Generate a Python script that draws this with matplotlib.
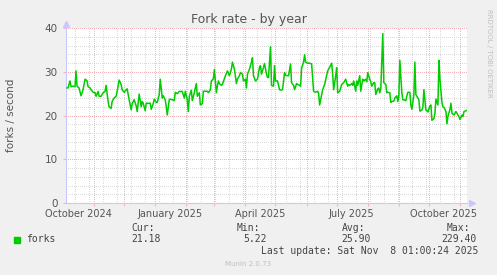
import numpy as np
import matplotlib
matplotlib.use("Agg")
import matplotlib.pyplot as plt
from matplotlib.patches import Rectangle

# day offsets from the graph start (Munin "by year" = last 400 days)
start = np.datetime64("2024-10-04T01:00")
end = np.datetime64("2025-11-08T01:00")

days = [1, 2, 4, 5, 7, 9, 10, 11, 13, 15, 17, 19, 21, 22, 24, 25, 27, 29, 30, 32,
        33, 35, 37, 39, 40, 42, 43, 45, 46, 48, 50, 51, 53, 55, 56, 58, 60, 61, 63, 65,
        66, 68, 70, 71, 73, 75, 76, 77, 79, 80, 82, 84, 85, 87, 88, 90, 91, 93, 94, 96,
        97, 99, 100, 101,
        103, 104, 106, 108, 109, 111, 113, 115, 116, 118, 119, 121, 122, 123, 125, 126,
        128, 130, 131, 133, 134, 136, 137, 139, 141, 142, 144, 145, 147, 148, 150, 151,
        152, 153, 155, 156, 158, 159, 161, 162, 163, 165, 166, 168, 170, 171, 173, 174,
        176, 177, 179, 180, 181, 183, 185, 186, 187, 189, 191, 193, 194, 195, 197, 198,
        200, 201,
        202, 204, 205, 207, 208, 209, 211, 213, 215, 216, 218, 219, 221, 222, 224, 225,
        227, 228, 230, 231, 233, 234, 235, 237, 238, 239, 241, 243, 245, 246, 247, 249,
        251, 252, 253, 255, 256, 258, 260, 261, 263, 265, 266, 267, 269, 270, 271, 273,
        274, 275, 277, 278, 279, 281, 282, 283, 285, 286, 287, 289, 290, 291, 293, 294,
        296, 297, 299,
        300, 301, 303, 304, 305, 307, 308, 309, 311, 312, 313, 314, 316, 317, 319, 320,
        321, 323, 324, 325, 327, 328, 330, 331, 332, 333, 335, 336, 337, 339, 340, 341,
        343, 344, 345, 347, 348, 349, 351, 352, 353, 355, 356, 357, 359, 360, 361, 363,
        364, 365, 367, 368, 369, 371, 372, 373, 375, 376, 377, 379, 380, 381, 383, 384,
        385, 387, 388, 389, 391, 392, 393, 395, 396, 397, 399, 400]

forks = [26.3, 26.3, 27.9, 26.6, 26.7, 26.6, 30.2, 26.7, 26.3, 24.5, 25.9, 28.3, 27.9, 26.6, 26.3, 25.9, 25.3, 25.2, 24.4, 25.5,
         24.4, 24.4, 25.2, 25.5, 26.9, 23.2, 22.0, 21.6, 23.2, 24.0, 24.4, 25.5, 28.1, 27.1, 25.9, 25.3, 25.9, 26.1, 23.6, 21.3,
         22.7, 23.6, 22.2, 20.9, 24.9, 22.0, 23.2, 22.8, 21.1, 22.8, 22.8, 22.8, 21.4, 22.7, 23.75, 23.0, 23.0, 24.8, 28.3, 24.0,
         24.5, 23.6, 22.0, 20.1,
         23.6, 23.75, 23.6, 23.4, 25.3, 25.0, 25.5, 25.5, 25.5, 24.0, 25.55, 23.6, 20.9, 24.4, 25.8, 23.4,
         25.2, 27.3, 24.4, 25.2, 22.4, 22.7, 25.55, 25.55, 25.55, 25.2, 25.9, 27.9, 28.4, 30.5, 25.2, 26.7,
         27.9, 27.3, 26.9, 27.1, 28.4, 29.1, 30.2, 29.7, 29.1, 30.6, 32.2, 30.6, 27.3, 28.3, 29.1, 29.8,
         29.45, 27.9, 28.3, 26.3, 29.45, 30.6, 32.2, 33.2, 29.1, 27.9, 28.3, 31.0, 31.4, 29.45, 31.0, 31.9,
         29.45, 28.7,
         28.7, 35.7, 26.9, 26.7, 31.4, 27.9, 27.9, 25.9, 25.8, 25.9, 29.8, 29.2, 29.1, 29.1, 31.8, 27.5,
         26.9, 25.9, 27.3, 27.1, 26.9, 26.7, 30.8, 32.2, 33.9, 32.2, 31.95, 31.95, 31.8, 28.7, 25.55, 25.3,
         25.55, 25.0, 22.4, 24.8, 25.9, 27.1, 29.1, 30.2, 31.0, 31.95, 29.45, 25.9, 29.1, 30.9, 25.2, 25.55,
         26.3, 27.1, 27.5, 27.9, 28.3, 26.7, 27.1, 26.9, 27.3, 26.9, 27.9, 25.55, 27.9, 26.9, 29.1, 25.55,
         28.3, 27.9, 28.3,
         27.7, 29.8, 28.3, 27.7, 26.7, 27.5, 27.5, 24.8, 26.1, 26.3, 25.2, 26.1, 38.7, 27.5, 27.1, 25.2,
         25.3, 25.2, 23.0, 23.2, 23.3, 24.0, 24.5, 23.2, 24.4, 32.6, 25.2, 23.6, 23.6, 23.4, 24.5, 25.3,
         25.3, 22.4, 21.4, 24.8, 32.2, 24.8, 24.0, 23.6, 21.0, 21.25, 21.9, 25.9, 21.25, 21.1, 20.8, 22.2,
         22.4, 18.9, 19.3, 20.5, 23.75, 22.4, 32.6, 28.3, 23.0, 22.0, 21.9, 20.9, 18.1, 19.8, 21.4, 22.8,
         20.5, 20.1, 20.5, 20.9, 20.1, 19.7, 19.1, 20.1, 19.8, 20.9, 21.1, 21.2]

yticks = [0, 10, 20, 30, 40]
label_months = ["2024-10-01", "2025-01-01", "2025-04-01", "2025-07-01", "2025-10-01"]
label_names = ["October 2024", "January 2025", "April 2025", "July 2025", "October 2025"]

legend_name = "forks"
cur, vmin, vavg, vmax = "21.18", "5.22", "25.90", "229.40"
last_update = "Last update: Sat Nov  8 01:00:24 2025"

W, H = 497, 275
txt = "#555555"
red = "#f2b4b4"
gray = "#dadada"
axc = "#c8c8ff"
dots = (0, (1, 2))

fig = plt.figure(figsize=(W / 100, H / 100), dpi=100, facecolor="#f0f0f0")
ax = fig.add_axes([66 / W, 1 - 203 / H, 401 / W, 175 / H])
ax.set_facecolor("white")

t = start + np.array(days) * np.timedelta64(1, "D")

# grid: gray every two weeks / every 2 units, red at month starts / every 10
for d in np.arange(np.datetime64("2024-10-13"), end, np.timedelta64(14, "D")):
    ax.axvline(d, color=gray, lw=0.72, ls=dots, antialiased=False, zorder=0)
for y in range(2, 40, 2):
    if y % 10:
        ax.axhline(y, color=gray, lw=0.72, ls=dots, antialiased=False, zorder=0)
months = np.arange(np.datetime64("2024-11"), np.datetime64("2025-12"), np.timedelta64(1, "M"))
months = months.astype("datetime64[D]")
for m in months:
    ax.axvline(m, color=red, lw=0.72, ls=dots, antialiased=False, zorder=1)
for y in yticks[1:]:
    ax.axhline(y, color=red, lw=0.72, ls=dots, antialiased=False, zorder=1)

ax.plot(t, forks, color="#00cc00", lw=1.1, zorder=3)

ax.set_xlim(start, end)
ax.set_ylim(0, 40)

# labels sit in the middle of the first half of the month, like rrdtool
lab_pos = np.array(label_months, dtype="datetime64[D]") + np.timedelta64(15, "D")
ax.set_xticks(lab_pos)
ax.set_xticklabels(label_names)
ax.set_xticks(months, minor=True)
ax.tick_params(axis="x", which="major", length=0, pad=4, labelsize=7, labelcolor=txt)
ax.tick_params(axis="x", which="minor", length=2, color=red, width=0.7)
ax.set_yticks(yticks)
ax.tick_params(axis="y", length=2, color=red, width=0.7, pad=4, labelsize=7.5, labelcolor=txt)

for s in ["top", "right"]:
    ax.spines[s].set_visible(False)
for s in ["left", "bottom"]:
    ax.spines[s].set_color(axc)
    ax.spines[s].set_linewidth(0.8)
ax.plot([0], [1.025], marker="^", ms=4, color=axc, transform=ax.transAxes, clip_on=False)
ax.plot([1.012], [0], marker=">", ms=4, color=axc, transform=ax.transAxes, clip_on=False)

fig.text(248.5 / W, 1 - 23 / H, "Fork rate - by year", ha="center", va="baseline",
         fontsize=9, color=txt)
fig.text(11 / W, 1 - 115 / H, "forks / second", rotation=90, ha="center", va="center",
         fontsize=7.5, color=txt)
fig.text(489 / W, 1 - 53 / H, "RRDTOOL / TOBI OETIKER", rotation=270, ha="center",
         va="center", fontsize=5, color="#c0c0c0")

# legend block (monospace like munin)
mono = dict(family="DejaVu Sans Mono", fontsize=7, color="#444444", va="center", ha="left")
fig.add_artist(Rectangle((14 / W, 1 - 242.5 / H), 6 / W, 6 / H, transform=fig.transFigure,
                         color="#00cc00"))
fig.text(26.5 / W, 1 - 239.5 / H, legend_name, **mono)
fig.text(131 / W, 1 - 228 / H, "Cur:", **mono)
fig.text(131 / W, 1 - 239.5 / H, cur, **mono)
fig.text(236.5 / W, 1 - 228 / H, "Min:", **mono)
fig.text(243 / W, 1 - 239.5 / H, vmin, **mono)
fig.text(341.5 / W, 1 - 228 / H, "Avg:", **mono)
fig.text(341.5 / W, 1 - 239.5 / H, vavg, **mono)
fig.text(446.5 / W, 1 - 228 / H, "Max:", **mono)
fig.text(441.3 / W, 1 - 239.5 / H, vmax, **mono)
fig.text(261 / W, 1 - 251 / H, last_update, **mono)
fig.text(248 / W, 1 - 264.5 / H, "Munin 2.0.73", ha="center", va="center", fontsize=5,
         color="#c0c0c0")

fig.savefig("out.png", dpi=100, facecolor=fig.get_facecolor())
